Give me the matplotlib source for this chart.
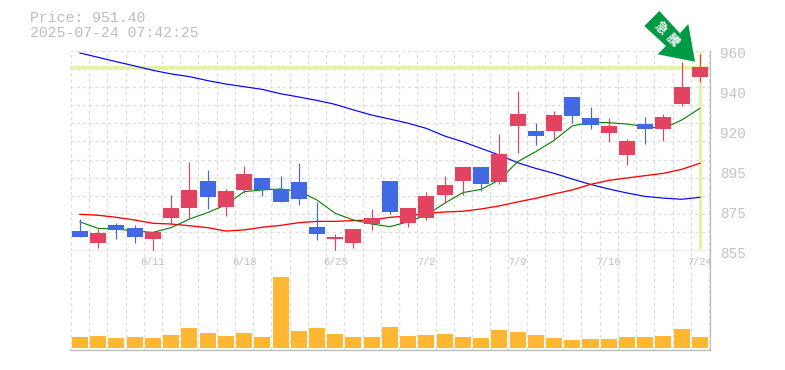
import matplotlib
matplotlib.use("Agg")
import matplotlib.pyplot as plt
from matplotlib.patches import Polygon
from matplotlib.transforms import Affine2D

plt.rcParams['font.family'] = ['Liberation Mono', 'DejaVu Sans Mono']

title_price = "Price: 951.40"
title_time = "2025-07-24 07:42:25"
last_price = 951.4

opens = [865.2, 858.9, 868.4, 866.8, 861.0, 872.1, 877.3, 891.5, 877.8, 886.8, 893.1, 887.3, 891.0,
         867.3, 861.0, 858.9, 868.9, 891.5, 869.4, 872.1, 884.1, 891.5, 898.8, 891.0, 920.4, 917.7,
         917.7, 935.6, 924.6, 916.7, 905.1, 921.4, 918.8, 931.9, 946.1]
highs = [871.5, 866.3, 869.4, 868.4, 864.7, 884.1, 901.5, 897.3, 887.3, 899.4, 893.1, 894.1, 900.9,
         880.5, 863.7, 866.3, 877.0, 891.5, 877.3, 885.7, 894.1, 898.8, 898.8, 916.2, 938.7, 921.9,
         928.2, 935.6, 930.3, 924.6, 913.5, 925.1, 926.7, 954.0, 958.2]
lows = [862.1, 856.3, 861.0, 858.9, 855.0, 868.4, 872.1, 876.8, 873.1, 885.2, 883.6, 880.5, 878.9,
        860.5, 855.0, 856.3, 865.8, 874.2, 867.3, 871.0, 879.9, 884.1, 886.2, 889.9, 906.2, 910.4,
        913.5, 921.9, 918.8, 912.0, 899.9, 910.9, 912.5, 930.9, 943.5]
closes = [862.1, 864.2, 865.8, 862.1, 864.7, 877.3, 886.8, 883.1, 886.2, 895.2, 886.8, 880.5, 882.0,
          863.7, 862.1, 866.3, 872.1, 875.2, 877.3, 883.6, 889.4, 898.8, 889.9, 905.7, 926.7, 915.1,
          926.1, 925.6, 920.9, 920.4, 912.5, 918.8, 925.1, 940.8, last_price]
ma_short = [870.0, 866.6, 866.3, 865.2, 864.5, 867.0, 871.5, 874.9, 878.9, 885.9, 886.8, 887.3, 886.2,
            881.5, 874.5, 871.0, 868.9, 867.5, 870.1, 873.6, 879.8, 885.4, 887.1, 892.0, 901.6, 906.9,
            912.8, 920.4, 922.3, 922.1, 921.4, 920.0, 919.1, 923.5, 929.6]
ma_mid = [874.0, 873.5, 872.4, 871.0, 869.3, 868.9, 868.0, 867.0, 865.2, 865.8, 867.2, 868.2, 869.6,
          870.3, 870.3, 870.7, 871.0, 872.4, 873.1, 874.5, 875.2, 875.6, 876.8, 878.4, 880.5, 882.4,
          884.7, 886.8, 889.7, 891.8, 893.1, 894.3, 895.5, 897.6, 900.8]
ma_long = [958.7, 956.4, 954.1, 951.9, 949.6, 947.7, 946.3, 944.2, 942.4, 941.0, 939.6, 937.3, 935.6,
           933.8, 931.7, 928.8, 926.1, 924.0, 921.8, 919.1, 915.1, 912.1, 908.6, 905.1, 901.1, 898.1,
           895.5, 892.5, 889.7, 887.3, 885.2, 883.4, 882.5, 881.9, 882.9]
volumes = [33, 36, 30, 33, 30, 39, 60, 45, 36, 45, 33, 213, 51, 60, 42, 33, 33, 63,
           36, 39, 42, 33, 30, 54, 48, 39, 30, 24, 27, 27, 33, 33, 36, 57, 33]
date_labels = ["6/11", "6/18", "6/25", "7/2", "7/9", "7/16", "7/24"]
date_index = [4, 9, 14, 19, 24, 29, 34]
price_ticks = [855, 876, 897, 918, 939, 960]
price_labels = ["855", "875", "895", "920", "940", "960"]

W, H = 785, 370
L, R, T, M, B = 70.3, 710.3, 50.5, 250.5, 350.3
GRAY = "#bdbdbd"
GRID = "#dcdcdc"
UP = "#e24361"
DOWN = "#4169e1"
n = len(closes)
xs = list(range(n))

fig = plt.figure(figsize=(W / 100, H / 100), dpi=100, facecolor="white")
ax = fig.add_axes([L / W, 1 - M / H, (R - L) / W, (M - T) / H])
axv = fig.add_axes([L / W, 1 - B / H, (R - L) / W, (B - M) / H])

xlim = (-0.53, 34.57)
for a in (ax, axv):
    a.set_xlim(*xlim)
    a.set_xticks([i - 0.5 for i in range(n + 1)])
    a.grid(axis="x", color=GRID, lw=0.9, ls=(0, (2.5, 2.5)))
    a.tick_params(length=0, labelbottom=False, labelleft=False)
    a.set_axisbelow(True)
    for s in a.spines.values():
        s.set_visible(False)
    a.spines["right"].set_visible(True)
    a.spines["bottom"].set_visible(True)
    a.spines["right"].set_color(GRAY)
    a.spines["bottom"].set_color(GRAY)
    a.spines["right"].set_linewidth(0.9)
    a.spines["bottom"].set_linewidth(1.0)

ax.set_ylim(855, 960)
ax.set_yticks([855 + k * 105 / 11 for k in range(12)])
ax.grid(axis="y", color=GRID, lw=0.9, ls=(0, (2.5, 2.5)))

ax.axhline(last_price, xmin=0, xmax=0.997, color="#e3f2a8", lw=2.4, zorder=1.5)
ax.vlines(xs[-1], 855.8, 960, color="#e3f2a8", lw=2.3, zorder=1.5)

ax.plot(xs, ma_long, color="#0000ff", lw=0.85, zorder=2)
ax.plot(xs, ma_mid, color="#ff0000", lw=0.95, zorder=2)
ax.plot(xs, ma_short, color="#007f00", lw=0.8, zorder=2)

colors = [UP if c >= o else DOWN for o, c in zip(opens, closes)]
ax.vlines(xs, lows, highs, colors=colors, lw=0.85, zorder=3)
ax.bar(xs, [abs(c - o) for o, c in zip(opens, closes)],
       bottom=[min(o, c) for o, c in zip(opens, closes)],
       width=0.88, color=colors, linewidth=0, zorder=4)

axv.set_ylim(-7.5, 291)
axv.bar(xs, volumes, width=0.88, color="#ffb733", linewidth=0, zorder=3)

for t, lab in zip(price_ticks, price_labels):
    ax.annotate(lab, xy=(1, t), xycoords=ax.get_yaxis_transform(),
                xytext=(7.2, -2.3), textcoords="offset points",
                ha="left", va="center", color="#c4c4c4", fontsize=10.4)
for i, lab in zip(date_index, date_labels):
    axv.annotate(lab, xy=(i, 1), xycoords=axv.get_xaxis_transform(),
                 xytext=(0, -8.6), textcoords="offset points",
                 ha="center", va="center", color="#bfbfbf", fontsize=7.4, zorder=5)

fig.text(30 / W, 1 - 18 / H, title_price, color="#bdbdbd", fontsize=10.7, ha="left", va="center")
fig.text(30 / W, 1 - 33 / H, title_time, color="#bdbdbd", fontsize=10.7, ha="left", va="center")

# Badge arrow, placed in pixel space
pix = Affine2D().scale(1, -1).translate(0, H)
arrow_outline = [(659.3, 11), (680, 33.3), (688.3, 24), (695, 61.7), (657.7, 54.3), (666, 46), (644.3, 26)]
fig.add_artist(Polygon(arrow_outline, closed=True, transform=pix, facecolor="#009944",
                       edgecolor="none", zorder=10))
fig.text(660 / W, 1 - 28.5 / H, "急", color="white", fontsize=9, rotation=-45, ha="center", va="center",
         rotation_mode="anchor", family=["Noto Sans CJK JP", "DejaVu Sans"], weight="bold", zorder=11)
fig.text(672 / W, 1 - 40 / H, "騰", color="white", fontsize=9, rotation=-45, ha="center", va="center",
         rotation_mode="anchor", family=["Noto Sans CJK JP", "DejaVu Sans"], weight="bold", zorder=11)

fig.savefig("out.png", dpi=100, facecolor="white")
